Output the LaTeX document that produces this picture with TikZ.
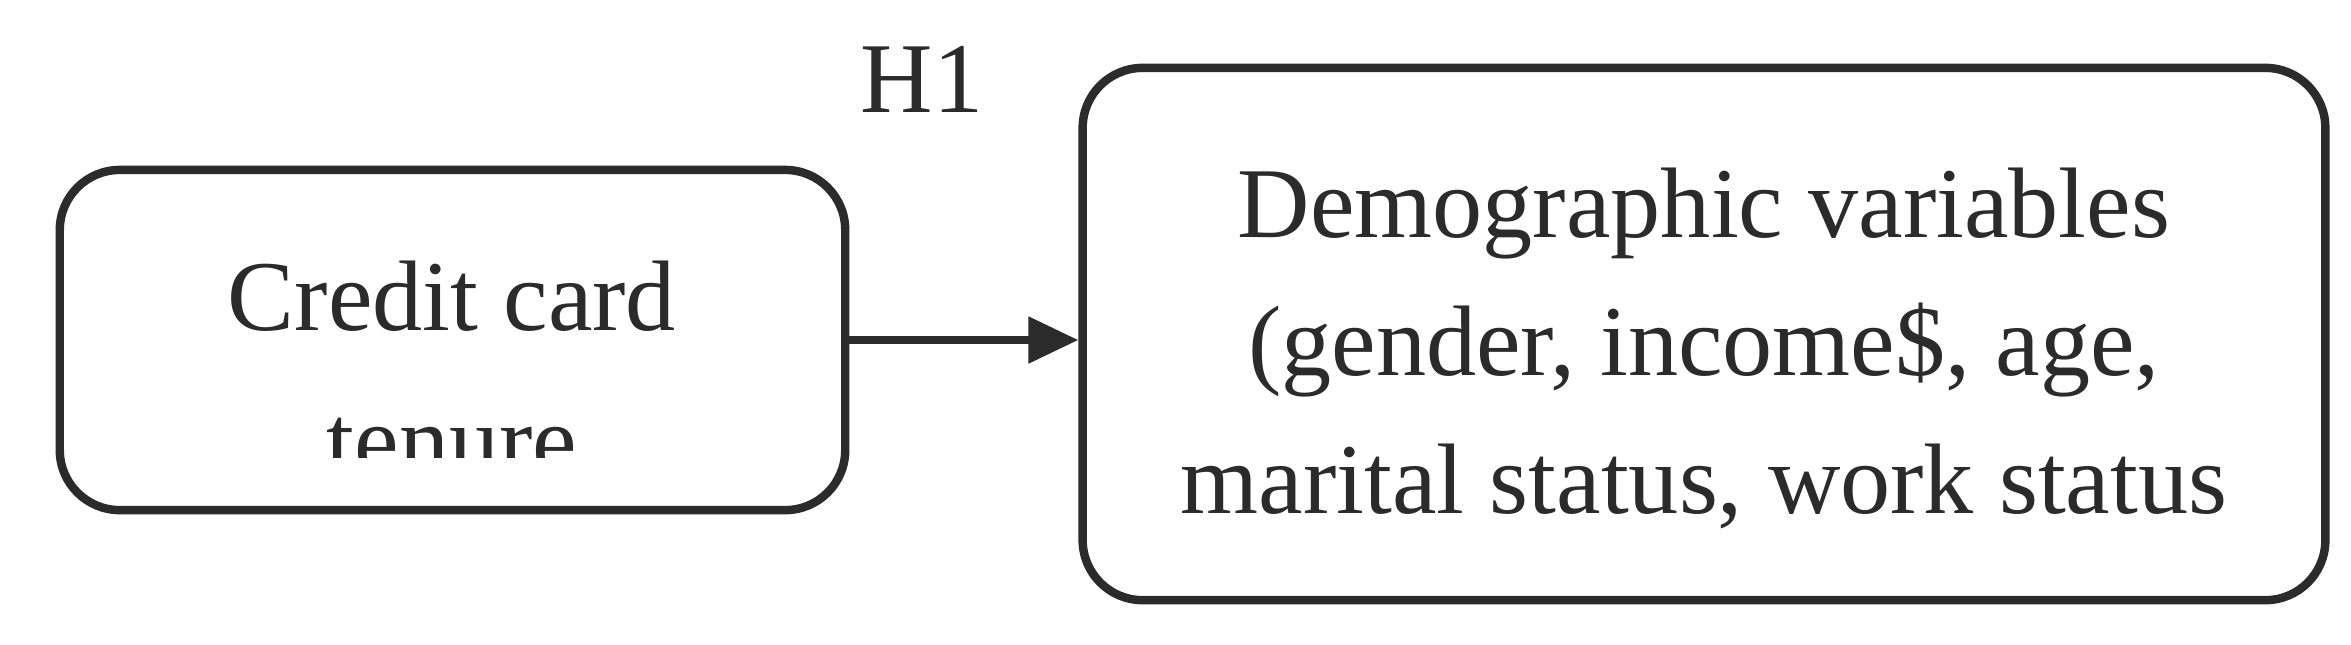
\documentclass[tikz,border=0pt]{standalone}
\usepackage{fontspec}
\setmainfont{Liberation Serif}
\usetikzlibrary{arrows.meta}
\definecolor{ink}{HTML}{2B2B2B}
\tikzset{
  boxst/.style={draw=ink, line width=2.4pt, rounded corners=0.6cm},
  txt/.style={anchor=base, inner sep=0pt, text=ink, font=\fontsize{28.5}{30}\selectfont},
  arr/.style={draw=ink, line width=2.4pt, -{Triangle[length=0.5cm,width=0.45cm]}}
}
\begin{document}
\begin{tikzpicture}[x=0.01cm,y=-0.01cm]
\useasboundingbox (0,0) rectangle (2351,644);
\node[boxst, minimum width=7.85cm, minimum height=3.4cm] (L) at (452.5,340) {};
\node[boxst, minimum width=12.42cm, minimum height=5.32cm] (R) at (1704,334) {};
\node[txt] (c1) at (452,330) {Credit card};
\begin{scope}
\clip (60,170) rectangle (845,457);
\node[txt] (c2) at (452,474) {tenure};
\end{scope}
\node[txt] (r1) at (1704,237) {Demographic variables};
\node[txt] (r2) at (1704,375) {(gender, income\$, age,};
\node[txt] (r3) at (1704,513) {marital status, work status};
\node[txt] (h1) at (922,112) {H1};
\draw[arr] (L.east) -- (R.west |- L.east);
\end{tikzpicture}
\end{document}
